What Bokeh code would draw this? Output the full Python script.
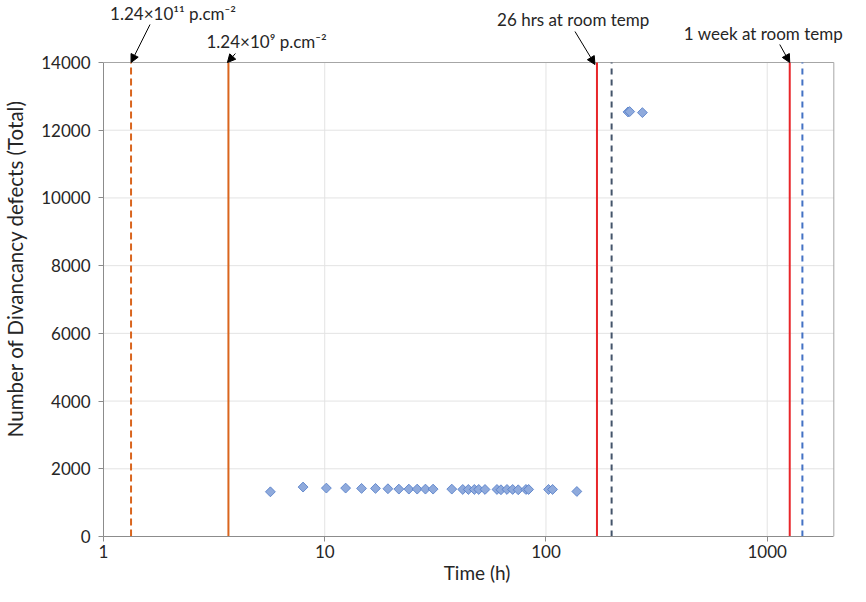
import math
from bokeh.plotting import figure
from bokeh.models import (Range1d, FixedTicker, Label, Arrow, NormalHead,
                          ColumnDataSource, BasicTickFormatter)
from bokeh.embed import file_html
from bokeh.resources import INLINE

# ---------------- data ----------------
time_h = [5.68, 7.98, 10.17, 12.43, 14.67, 16.96, 19.30, 21.63, 24.00, 26.17,
          28.52, 30.89, 37.52, 42.05, 44.58, 47.45, 49.66, 53.02, 60.04, 62.59,
          66.63, 70.69, 74.92, 81.17, 83.48, 102.7, 107.1, 137.9,
          234.8, 239.0, 272.8]
defects = [1320, 1460, 1430, 1430, 1420, 1420, 1410, 1400, 1400, 1400,
           1400, 1400, 1400, 1390, 1390, 1390, 1390, 1390, 1390, 1380,
           1390, 1390, 1380, 1390, 1390, 1390, 1390, 1330,
           12540, 12550, 12520]

line_x = [1.332, 3.67, 170, 198, 1264, 1442]
line_color = ["#D9651E", "#D9651E", "#E8262A", "#44546A", "#E8262A", "#4472C4"]
line_dash = ["7 4", "solid", "solid", "6 5", "solid", "6 5"]

ann_text = ["1.24×10¹¹ p.cm⁻²", "1.24×10⁹ p.cm⁻²",
            "26 hrs at room temp", "1 week at room temp"]
ann_target = [1.332, 3.67, 170, 1264]

x_ticks = [1, 10, 100, 1000]
y_ticks = [0, 2000, 4000, 6000, 8000, 10000, 12000, 14000]

X_MIN, X_MAX = 1, 2000
Y_MIN, Y_MAX = 0, 14000

# ---------------- layout ----------------
W, H = 850, 586
ML, MB = 102, 50             # left / bottom borders (axes)
PLOT_TOP = 62                # canvas px of the y=14000 edge
PLOT_RIGHT = 833.3           # canvas px of the x=2000 edge
FH_canvas = H - MB           # frame height (frame spans to canvas top)
FW_canvas = W - ML           # frame width (frame spans to canvas right)
DEC = (PLOT_RIGHT - ML) / math.log10(X_MAX / X_MIN)     # px per decade
YPX = (Y_MAX - Y_MIN) / (FH_canvas - PLOT_TOP)          # data per px
x_hi = X_MIN * 10 ** (FW_canvas / DEC)
y_hi = Y_MIN + FH_canvas * YPX

FONT = "Lato"
TXT = "#262626"
FRAME = "#A6A6A6"
GRID = "#E3E3E3"

p = figure(width=W, height=H, x_axis_type="log",
           x_range=Range1d(X_MIN, x_hi), y_range=Range1d(Y_MIN, y_hi),
           output_backend="svg", toolbar_location=None,
           min_border_left=ML, min_border_right=0,
           min_border_top=0, min_border_bottom=MB,
           background_fill_color="white", border_fill_color="white")

p.outline_line_color = None
p.xgrid.visible = False
p.ygrid.visible = False

# axes
p.xaxis.ticker = FixedTicker(ticks=x_ticks)
p.xaxis.formatter = BasicTickFormatter()
p.xaxis.bounds = (X_MIN, X_MAX)
p.yaxis.ticker = FixedTicker(ticks=y_ticks)
p.yaxis.formatter = BasicTickFormatter(use_scientific=False)
p.yaxis.bounds = (Y_MIN, Y_MAX)
for ax in (p.xaxis[0], p.yaxis[0]):
    ax.axis_line_color = "#8C8C8C"
    ax.major_tick_line_color = "#8C8C8C"
    ax.major_tick_out = 5
    ax.major_tick_in = 0
    ax.minor_tick_line_color = None
    ax.major_label_text_font = FONT
    ax.major_label_text_font_size = "17px"
    ax.major_label_text_color = TXT
    ax.axis_label_text_font = FONT
    ax.axis_label_text_font_style = "normal"
    ax.axis_label_text_color = TXT

p.xaxis.axis_label = "Time (h)"
p.yaxis.axis_label = "Number of Divancancy defects (Total)"
p.xaxis.axis_label_text_font_size = "19px"
p.yaxis.axis_label_text_font_size = "20.5px"
p.xaxis.major_label_standoff = 3
p.xaxis.axis_label_standoff = 0
p.yaxis.major_label_standoff = 8
p.yaxis.axis_label_standoff = 11

# grid lines (drawn within the plot box only)
hy = [v for v in y_ticks if v not in (Y_MIN, Y_MAX)]
p.segment(x0=[X_MIN] * len(hy), y0=hy, x1=[X_MAX] * len(hy), y1=hy,
          line_color=GRID, line_width=1)
vx = [v for v in x_ticks if v != X_MIN]
p.segment(x0=vx, y0=[Y_MIN] * len(vx), x1=vx, y1=[Y_MAX] * len(vx),
          line_color=GRID, line_width=1)
# plot box (top and right edges)
p.segment(x0=[X_MIN, X_MAX], y0=[Y_MAX, Y_MIN], x1=[X_MAX, X_MAX],
          y1=[Y_MAX, Y_MAX], line_color=FRAME, line_width=1)

# vertical reference lines
for xv, c, d in zip(line_x, line_color, line_dash):
    src = ColumnDataSource(dict(x0=[xv], y0=[Y_MIN], x1=[xv], y1=[Y_MAX]))
    p.segment("x0", "y0", "x1", "y1", source=src, line_color=c,
              line_width=2, line_dash=d)

# data points
src = ColumnDataSource(dict(t=time_h, d=defects))
p.scatter("t", "d", source=src, marker="square", angle=math.pi / 4,
          size=7, fill_color="#8FAADC", line_color="#4F7AC7",
          line_width=0.8)

# annotations (offsets in screen px relative to the target line top)
lab_off = [(-21, 49), (-22, 21), (-100, 43), (-106, 29)]
arr_start = [(19, 38), (7, 9), (-22, 31), (-10, 18)]
arr_end = [(0, 0), (-1, 0), (-2, -2), (0, 0)]


def pos(xt, dx, dy):
    return xt * 10 ** (dx / DEC), Y_MAX + dy * YPX


for txt, xt, lo, a0, a1 in zip(ann_text, ann_target, lab_off, arr_start, arr_end):
    lx, ly = pos(xt, *lo)
    p.add_layout(Label(x=lx, y=ly, text=txt, text_font=FONT,
                       text_font_size="17px", text_color=TXT,
                       text_align="left", text_baseline="middle"))
    sx, sy = pos(xt, *a0)
    ex, ey = pos(xt, *a1)
    p.add_layout(Arrow(x_start=sx, y_start=sy, x_end=ex, y_end=ey,
                       line_color="black", line_width=1,
                       end=NormalHead(size=8, fill_color="black",
                                      line_color="black")))

open("out.html", "w").write(file_html(p, INLINE))
